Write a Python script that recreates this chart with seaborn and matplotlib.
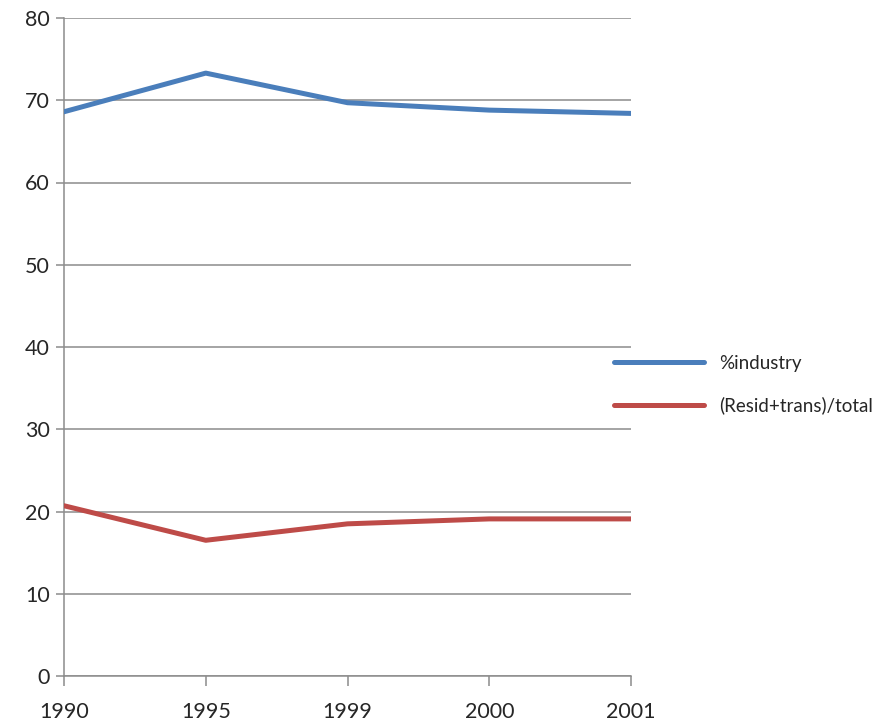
import matplotlib
matplotlib.use("Agg")
import matplotlib.pyplot as plt
import seaborn as sns
import pandas as pd

years = ["1990", "1995", "1999", "2000", "2001"]
industry = [68.6, 73.3, 69.7, 68.8, 68.4]
resid_trans = [20.7, 16.5, 18.5, 19.1, 19.1]
series_names = ["%industry", "(Resid+trans)/total"]
colors = ["#4A7EBB", "#BE4B48"]

df = pd.DataFrame({
    "year": years * 2,
    "value": industry + resid_trans,
    "series": [series_names[0]] * len(years) + [series_names[1]] * len(years),
})

sns.set_style("white")
plt.rcParams["font.family"] = ["Lato", "DejaVu Sans"]

fig = plt.figure(figsize=(8.92, 7.24), dpi=100)
ax = fig.add_axes([64 / 892, 1 - 676 / 724, (631 - 64) / 892, (676 - 18) / 724])

sns.lineplot(
    data=df,
    x="year",
    y="value",
    hue="series",
    palette=colors,
    linewidth=3.6,
    sort=False,
    ax=ax,
    zorder=3,
)

ax.set_xlim(0, len(years) - 1)
ax.set_ylim(0, 80)
ax.set_yticks(range(0, 81, 10))
ax.set_xlabel("")
ax.set_ylabel("")
ax.yaxis.grid(True, color="#8C8C8C", linewidth=1.1, zorder=0)
ax.xaxis.grid(False)
for side in ["top", "right"]:
    ax.spines[side].set_visible(False)
for side in ["left", "bottom"]:
    ax.spines[side].set_color("#8C8C8C")
    ax.spines[side].set_linewidth(1.1)
ax.tick_params(axis="x", direction="out", length=7, width=1.1, color="#8C8C8C",
               labelsize=15.5, pad=12, bottom=True)
ax.tick_params(axis="y", direction="out", length=6, width=1.1, color="#8C8C8C",
               labelsize=15.5, pad=4, left=True)

ax.legend(
    loc="center left",
    bbox_to_anchor=(0.94, 0.443),
    frameon=False,
    fontsize=13.5,
    handlelength=4.8,
    handletextpad=0.8,
    labelspacing=1.3,
)

fig.savefig("out.png", dpi=100)
